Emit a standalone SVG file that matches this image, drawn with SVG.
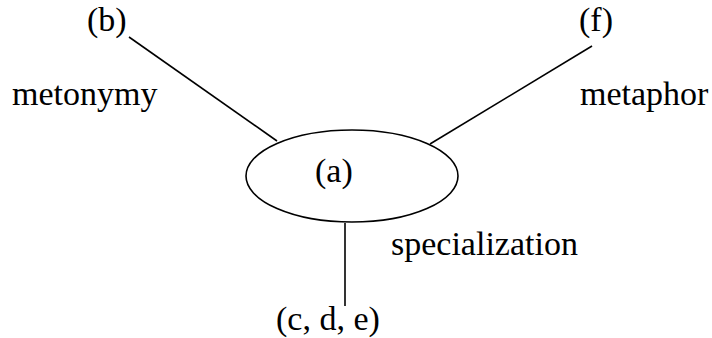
<svg xmlns="http://www.w3.org/2000/svg" width="712" height="338" viewBox="0 0 712 338">
<style>
text{font-family:"Liberation Serif","Times New Roman","DejaVu Serif",serif;font-size:34px;fill:#000}
.ln{stroke:#000;stroke-width:1.6;fill:none}
</style>
<rect width="712" height="338" fill="#fff"/>
<g id="connectors">
<line class="ln" x1="129" y1="37" x2="277" y2="141"/>
<line class="ln" x1="592" y1="46" x2="430" y2="144"/>
<line class="ln" x1="345" y1="223" x2="345" y2="306"/>
</g>
<g id="node-a">
<ellipse class="ln" cx="352" cy="176" rx="106" ry="46"/>
<text x="315" y="182">(a)</text>
</g>
<g id="node-b"><text x="87" y="31">(b)</text></g>
<g id="node-f"><text x="579" y="31">(f)</text></g>
<g id="node-cde"><text x="276" y="330">(c, d, e)</text></g>
<g id="labels">
<text x="12" y="105">metonymy</text>
<text x="580" y="105">metaphor</text>
<text x="391" y="255">specialization</text>
</g>
</svg>
